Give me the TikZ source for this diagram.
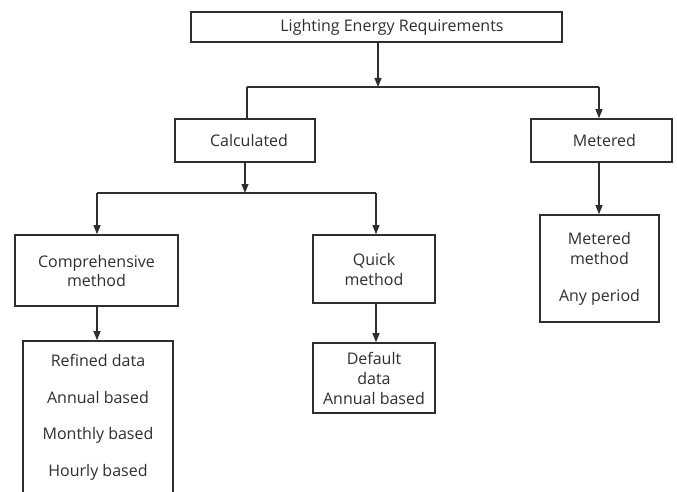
\documentclass[tikz,border=0pt]{standalone}
\usepackage{fontspec}
\setmainfont{Open Sans}
\usetikzlibrary{arrows.meta}
\definecolor{ink}{HTML}{2E2E2E}
\begin{document}
\begin{tikzpicture}[x=1pt,y=-1pt,
  box/.style={draw=ink,line width=1.6pt,rectangle,inner sep=0pt,align=center,text=ink,
    font=\fontsize{16}{20}\selectfont},
  txt/.style={inner sep=0pt,align=center,text=ink,font=\fontsize{16}{20}\selectfont},
  conn/.style={draw=ink,line width=1.1pt},
  arr/.style={conn,-{Triangle[width=7pt,length=9pt]}}]
\useasboundingbox (0,0) rectangle (677,492);
% boxes
\node[box,minimum width=371pt,minimum height=30pt] (top) at (376.5,27) {};
\node[txt] (toptext) at (392,27) {Lighting Energy Requirements};
\node[box,minimum width=140pt,minimum height=43pt] (calc) at (245,140.5) {\hspace{8pt}Calculated};
\node[box,minimum width=141pt,minimum height=43pt] (met) at (601.5,140.5) {\hspace{6pt}Metered};
\node[box,minimum width=163pt,minimum height=71pt] (comp) at (96.5,270.5) {Comprehensive\\[-1pt]method};
\node[box,minimum width=122pt,minimum height=68pt] (quick) at (374,269) {Quick\\method};
\node[box,minimum width=119pt,minimum height=107pt] (mm) at (599.5,268.5) {Metered\\method\\[17pt]Any period};
\node[box,minimum width=150pt,minimum height=153pt] (refined) at (98,417.5) {Refined data\\[16.5pt]Annual based\\[16.5pt]Monthly based\\[16.5pt]Hourly based};
\node[box,minimum width=122pt,minimum height=70pt] (default) at (374,378) {Default\\data\\Annual based};
% junction coordinates
\coordinate (j1) at (378,87);
\coordinate (j1l) at (247,87);
\coordinate (j1r) at (599,87);
\coordinate (j2) at (245,193);
\coordinate (j2l) at (97,193);
\coordinate (j2r) at (376,193);
% connectors
\draw[arr] (top.south -| j1) -- (j1);
\draw[conn] (j1l) -- (j1r);
\draw[conn] (j1l) -- (calc.north -| j1l);
\draw[arr] (j1r) -- (met.north -| j1r);
\draw[arr] (calc.south -| j2) -- (j2);
\draw[conn] (j2l) -- (j2r);
\draw[arr] (j2l) -- (comp.north -| j2l);
\draw[arr] (j2r) -- (quick.north -| j2r);
\draw[arr] (comp.south -| j2l) -- (refined.north -| j2l);
\draw[arr] (quick.south -| j2r) -- (default.north -| j2r);
\draw[arr] (met.south -| j1r) -- (mm.north -| j1r);
\end{tikzpicture}
\end{document}
